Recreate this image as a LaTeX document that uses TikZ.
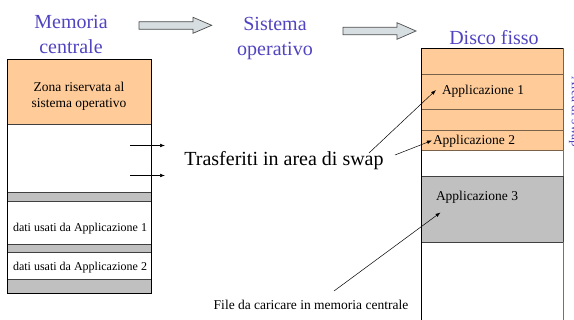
\documentclass[tikz,border=0pt]{standalone}
\usepackage{fontspec}
\setmainfont{Liberation Serif}
\usetikzlibrary{arrows.meta}

\definecolor{titleblue}{RGB}{80,68,192}
\definecolor{zoneorange}{RGB}{255,204,153}
\definecolor{bandgray}{RGB}{192,192,192}
\definecolor{brownline}{RGB}{122,98,74}
\definecolor{arrowfill}{RGB}{214,222,226}

\begin{document}
\begin{tikzpicture}[x=1pt,y=-1pt,
  every node/.style={inner sep=0pt, outer sep=0pt},
  title/.style={text=titleblue, font=\rmfamily\fontsize{20}{25}\selectfont, align=center},
  txt/.style={font=\rmfamily\fontsize{#1}{16}\selectfont, align=center},
  frame/.style={draw=black, line width=0.9pt},
  sepline/.style={draw=black!75, line width=0.9pt},
  orangesep/.style={draw=brownline, line width=0.9pt},
  fatarrow/.style={draw=black!70, fill=arrowfill, line width=0.7pt, line join=miter},
  thin/.style={draw=black, line width=0.5pt, -{Latex[length=5pt,width=3.6pt]}}]

\useasboundingbox (0,0) rectangle (574,320);

% ---------- headings (base anchor = baseline of the last line) ----------
\node[title, anchor=base] (mem) at (71,53.5) {Memoria\\centrale};
\node[title, anchor=base] (sys) at (275,55.5) {Sistema\\operativo};
\node[title, anchor=base] (disk) at (494,44.5) {Disco fisso};

% wide arrows between the headings
\draw[fatarrow] (139,21.7) -- (193,21.7) -- (193,17.3) -- (211.7,25.3)
  -- (193,33.3) -- (193,29.3) -- (139,29.3) -- cycle;
\draw[fatarrow] (343,27.3) -- (397,27.3) -- (397,22.7) -- (416,31)
  -- (397,39.3) -- (397,34.7) -- (343,34.7) -- cycle;

% ---------- main memory column ----------
\fill[zoneorange] (7,59) rectangle (151,124);
\fill[bandgray] (7,192) rectangle (151,201);
\fill[bandgray] (7,244) rectangle (151,252);
\fill[bandgray] (7,279) rectangle (151,293);
\foreach \yy in {124,192,201,244,252,279}
  \draw[sepline] (7,\yy) -- (151,\yy);
\draw[frame] (7,59) rectangle (151,293);

\node[txt=13.5] (osz) at (79,96) {Zona riservata al\\sistema operativo};
\node[txt=12] (dati1) at (80,229) {dati usati da Applicazione 1};
\node[txt=12] (dati2) at (80,268) {dati usati da Applicazione 2};

% ---------- hard disk column ----------
\fill[zoneorange] (421,48) rectangle (563,150);
\fill[bandgray] (421,176) rectangle (563,242);
\foreach \yy in {74,109,130,150}
  \draw[orangesep] (421,\yy) -- (563,\yy);
\draw[sepline] (421,176) -- (563,176);
\draw[sepline] (421,242) -- (563,242);
\draw[orangesep] (563,48) -- (563,150);
\draw[draw=black!55, line width=0.9pt] (563,150) -- (563,322);
\draw[sepline] (563,176) -- (563,242);
\draw[frame] (421,322) -- (421,48) -- (563,48);

\node[txt=13.5, anchor=west] (app1) at (442,91) {Applicazione 1};
\node[txt=13.5, anchor=west] (app2) at (433,141) {Applicazione 2};
\node[txt=13.5, anchor=west] (app3) at (436,197) {Applicazione 3};

\node[text=titleblue, font=\rmfamily\fontsize{13.5}{16}\selectfont, rotate=-90] (swap) at (575,112) {Area di swap};

% ---------- captions ----------
\node[font=\rmfamily\fontsize{20}{24}\selectfont] (trasf) at (284,161) {Trasferiti in area di swap};
\node[txt=13.5] (file) at (311,305) {File da caricare in memoria centrale};

% ---------- pointers ----------
\coordinate (out1) at (130,145.5);
\coordinate (in1) at (165,145.5);
\coordinate (out2) at (130,175.5);
\coordinate (in2) at (165,175.5);
\draw[thin] (out1) -- (in1);
\draw[thin] (out2) -- (in2);

\coordinate (s1) at (369,153);
\coordinate (t1) at (436,90);
\coordinate (s2) at (395,155);
\coordinate (t2) at (432,140.5);
\coordinate (s3) at (334,291);
\coordinate (t3) at (440.5,212.5);
\draw[thin] (s1) -- (t1);
\draw[thin] (s2) -- (t2);
\draw[thin] (s3) -- (t3);
\end{tikzpicture}
\end{document}
